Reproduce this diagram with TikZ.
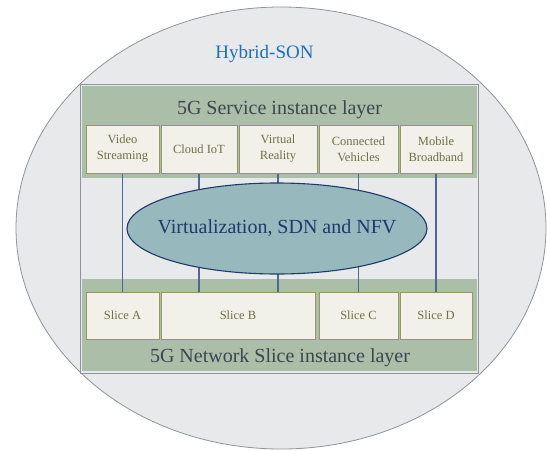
\documentclass[tikz,border=0pt]{standalone}
\usepackage{fontspec}
\setmainfont{Liberation Serif}
\usetikzlibrary{positioning,shapes.geometric}
\definecolor{sonbg}{RGB}{232,233,235}
\definecolor{sonline}{RGB}{143,147,155}
\definecolor{sonblue}{RGB}{26,111,190}
\definecolor{bandgreen}{RGB}{171,191,168}
\definecolor{boxfill}{RGB}{241,241,234}
\definecolor{boxline}{RGB}{150,150,100}
\definecolor{boxtext}{RGB}{112,112,72}
\definecolor{virtfill}{RGB}{151,185,190}
\definecolor{virtline}{RGB}{31,58,106}
\definecolor{layertext}{RGB}{62,68,80}
\definecolor{wire}{RGB}{80,104,145}

\begin{document}
\begin{tikzpicture}[x=1pt,y=-1pt,
    svcbox/.style={draw=boxline,line width=1pt,fill=boxfill,text=boxtext,align=center,
      minimum height=48pt,inner sep=1pt,font=\fontsize{12.5}{16}\selectfont},
    layertitle/.style={anchor=base,text=layertext,font=\fontsize{20}{24}\selectfont},
    wireline/.style={wire,line width=1.3pt}]
    \useasboundingbox (0,0) rectangle (549,450);
    % hybrid SON area
    \filldraw[fill=sonbg,draw=sonline,line width=0.8pt] (281,228) ellipse (265 and 221);
    \node[anchor=base,text=sonblue,font=\fontsize{19}{22}\selectfont] (son) at (264.5,58) {Hybrid-SON};
    \filldraw[fill=sonbg,draw=sonline,line width=1pt] (80,84) rectangle (478,373);
    \fill[bandgreen] (82,86) rectangle (477,178);
    \fill[bandgreen] (82,279) rectangle (477,371);
    \node[layertitle] (svclayer) at (279.5,114) {5G Service instance layer};
    \node[layertitle] (slicelayer) at (280,362) {5G Network Slice instance layer};
    % services
    \node[svcbox,minimum width=73pt] (video) at (122.5,149) {Video\\Streaming};
    \node[svcbox,minimum width=76pt] (iot) at (199,149) {Cloud IoT};
    \node[svcbox,minimum width=78pt] (vr) at (278,149) {Virtual\\Reality};
    \node[svcbox,minimum width=79pt] (cv) at (358.5,149) {Connected\\Vehicles};
    \node[svcbox,minimum width=72pt] (mbb) at (436,149) {Mobile\\Broadband};
    % slices
    \node[svcbox,minimum width=73pt,minimum height=47pt] (slicea) at (122.5,315.5) {Slice A};
    \node[svcbox,minimum width=154pt,minimum height=47pt] (sliceb) at (238,315.5) {Slice B};
    \node[svcbox,minimum width=79pt,minimum height=47pt] (slicec) at (358.5,315.5) {Slice C};
    \node[svcbox,minimum width=72pt,minimum height=47pt] (sliced) at (436,315.5) {Slice D};
    \draw[wireline] (video.south) -- (slicea.north);
    \draw[wireline] (iot.south) -- (iot.south |- sliceb.north);
    \draw[wireline] (vr.south) -- (vr.south |- sliceb.north);
    \draw[wireline] (cv.south) -- (slicec.north);
    \draw[wireline] (mbb.south) -- (sliced.north);
    \node[ellipse,draw=virtline,line width=1.1pt,fill=virtfill,text=virtline,
      minimum width=300pt,minimum height=91pt,inner sep=0pt,
      font=\fontsize{20}{24}\selectfont] (virt) at (277,228.5) {\makebox[0pt]{Virtualization, SDN and NFV}};
\end{tikzpicture}
\end{document}
